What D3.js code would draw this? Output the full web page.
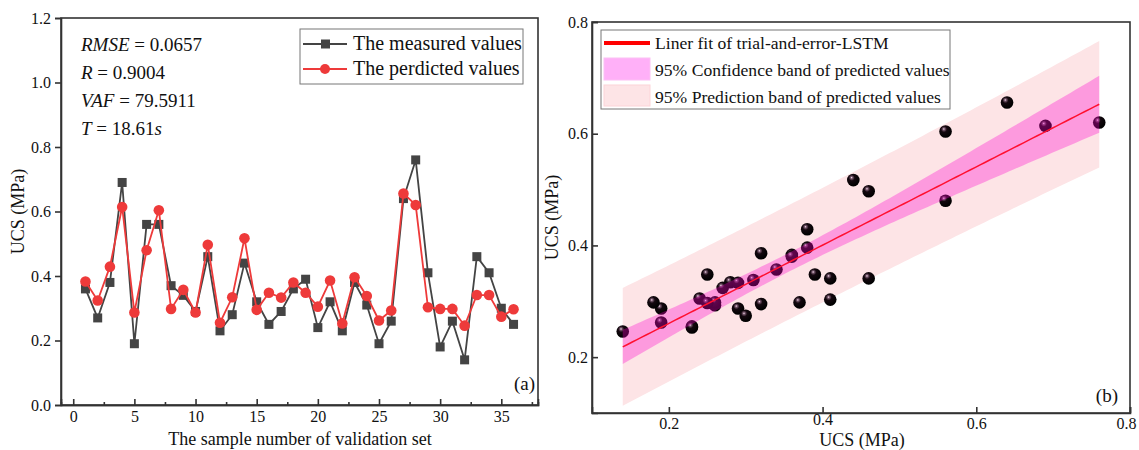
<!DOCTYPE html>
<html>
<head>
<meta charset="utf-8">
<script src="https://cdn.jsdelivr.net/npm/d3@7"></script>
<style>
  body { margin: 0; background: #fff; }
  svg { display: block; font-family: 'Liberation Serif', 'Times New Roman', serif; }
  svg text { font-family: 'Liberation Serif', 'Times New Roman', serif; }
</style>
</head>
<body>
<div id="chart"></div>
<script>
const width = 1139;
const height = 450;

// sample index 1..36 of the validation set
const samples = d3.range(1, 37);
const measured = [0.36, 0.27, 0.38, 0.69, 0.19, 0.56, 0.56, 0.37, 0.34, 0.29, 0.46, 0.23,
  0.28, 0.44, 0.32, 0.25, 0.29, 0.36, 0.39, 0.24, 0.32, 0.23, 0.38, 0.31,
  0.19, 0.26, 0.64, 0.76, 0.41, 0.18, 0.26, 0.14, 0.46, 0.41, 0.30, 0.25];
const predicted = [0.383, 0.324, 0.429, 0.614, 0.287, 0.48, 0.604, 0.298, 0.357, 0.287, 0.497, 0.255,
  0.334, 0.517, 0.295, 0.348, 0.333, 0.38, 0.348, 0.305, 0.386, 0.253, 0.396, 0.338,
  0.262, 0.293, 0.656, 0.62, 0.303, 0.298, 0.298, 0.246, 0.341, 0.341, 0.274, 0.297];
const metrics = [
  {name: 'RMSE', value: '0.0657', unit: ''},
  {name: 'R', value: '0.9004', unit: ''},
  {name: 'VAF', value: '79.5911', unit: ''},
  {name: 'T', value: '18.61', unit: 's'},
];
const leftXTicks = [0, 5, 10, 15, 20, 25, 30, 35];
const leftYTicks = [0, 0.2, 0.4, 0.6, 0.8, 1.0, 1.2];
const rightTicks = [0.2, 0.4, 0.6, 0.8];

const axisColor = '#333';
const measuredColor = '#444';
const predictedColor = '#ee3a3a';

const svg = d3.select('#chart').append('svg')
  .attr('width', width)
  .attr('height', height);

const defs = svg.append('defs');
const ball = defs.append('radialGradient')
  .attr('id', 'ball')
  .attr('cx', '40%').attr('cy', '35%').attr('r', '62%')
  .attr('fx', '36%').attr('fy', '30%');
ball.append('stop').attr('offset', '0%').attr('stop-color', '#f6e6f0');
ball.append('stop').attr('offset', '14%').attr('stop-color', '#7a5a70');
ball.append('stop').attr('offset', '38%').attr('stop-color', '#14080f');
ball.append('stop').attr('offset', '100%').attr('stop-color', '#000');

function styleAxis(g) {
  g.attr('font-family', null);
  g.selectAll('path, line').attr('stroke', axisColor).attr('stroke-width', 1.6);
  g.selectAll('text').attr('fill', '#111')
    .style('font-size', '16px')
    .style('font-family', "'Liberation Serif', serif");
}

// ---------- (a) line chart ----------
const xL = d3.scaleLinear([-1, 38], [61, 538]);
const yL = d3.scaleLinear([0, 1.2], [405, 18]);

const left = svg.append('g');

left.append('g')
  .attr('transform', `translate(0,${yL(0)})`)
  .call(d3.axisBottom(xL).tickValues(d3.range(2.5, 38, 5)).tickSize(-3).tickFormat(''))
  .call(styleAxis);
left.append('g')
  .attr('transform', `translate(0,${yL(0)})`)
  .call(d3.axisBottom(xL).tickValues(leftXTicks).tickSizeOuter(0).tickSize(-6).tickPadding(6))
  .call(styleAxis);
left.append('g')
  .attr('transform', `translate(${xL.range()[0]},0)`)
  .call(d3.axisLeft(yL).tickValues(leftYTicks).tickSizeOuter(0).tickSize(6).tickPadding(4)
    .tickFormat(d3.format('.1f')))
  .call(styleAxis);
left.append('rect')
  .attr('x', xL.range()[0]).attr('y', yL.range()[1])
  .attr('width', xL.range()[1] - xL.range()[0])
  .attr('height', yL.range()[0] - yL.range()[1])
  .attr('fill', 'none').attr('stroke', axisColor).attr('stroke-width', 1.6);

const lineL = (vals)=>d3.line().x((d, i)=>xL(samples[i])).y((d)=>yL(d))(vals);

left.append('path').attr('d', lineL(measured))
  .attr('fill', 'none').attr('stroke', measuredColor).attr('stroke-width', 1.8);
left.append('g').selectAll('rect')
  .data(measured)
  .join('rect')
  .attr('x', (d, i)=>xL(samples[i]) - 4.5)
  .attr('y', (d)=>yL(d) - 4.5)
  .attr('width', 9).attr('height', 9)
  .attr('fill', measuredColor);

left.append('path').attr('d', lineL(predicted))
  .attr('fill', 'none').attr('stroke', predictedColor).attr('stroke-width', 1.8);
left.append('g').selectAll('circle')
  .data(predicted)
  .join('circle')
  .attr('cx', (d, i)=>xL(samples[i]))
  .attr('cy', (d)=>yL(d))
  .attr('r', 5.3)
  .attr('fill', predictedColor);

// metrics text
const mt = left.append('g').attr('font-size', 19).attr('fill', '#111');
metrics.forEach((m, i)=>{
  const t = mt.append('text').attr('x', 81).attr('y', 51 + i * 28);
  t.append('tspan').attr('font-style', 'italic').text(m.name);
  t.append('tspan').text(' = ' + m.value);
  if (m.unit) t.append('tspan').attr('font-style', 'italic').text(m.unit);
});

// legend (a)
const legA = left.append('g');
legA.append('rect').attr('x', 300).attr('y', 29).attr('width', 223).attr('height', 55)
  .attr('fill', '#fff').attr('stroke', '#777').attr('stroke-width', 1);
[{label: 'The measured values', color: measuredColor, sq: true},
  {label: 'The perdicted values', color: predictedColor, sq: false}].forEach((s, i)=>{
  const y = 44 + i * 25;
  legA.append('line').attr('x1', 303).attr('x2', 347).attr('y1', y).attr('y2', y)
    .attr('stroke', s.color).attr('stroke-width', 1.8);
  if (s.sq) {
    legA.append('rect').attr('x', 321).attr('y', y - 4.5).attr('width', 9).attr('height', 9).attr('fill', s.color);
  } else {
    legA.append('circle').attr('cx', 325).attr('cy', y).attr('r', 5).attr('fill', s.color);
  }
  legA.append('text').attr('x', 353).attr('y', y + 6).attr('font-size', 20).attr('fill', '#111').text(s.label);
});

left.append('text').attr('x', 535).attr('y', 390).attr('text-anchor', 'end')
  .attr('font-size', 19).attr('fill', '#111').text('(a)');
left.append('text').attr('x', 300).attr('y', 445).attr('text-anchor', 'middle')
  .attr('font-size', 18).attr('fill', '#111').text('The sample number of validation set');
left.append('text').attr('transform', `translate(24,${yL(0.6)}) rotate(-90)`)
  .attr('text-anchor', 'middle').attr('font-size', 18).attr('fill', '#111').text('UCS (MPa)');

// ---------- (b) scatter with linear fit ----------
const xR = d3.scaleLinear([0.1, 0.8], [592, 1130]);
const yR = d3.scaleLinear([0.1, 0.8], [413, 22]);
const right = svg.append('g');

// least squares fit of predicted on measured, with 95% bands
const n = measured.length;
const mx = d3.mean(measured);
const my = d3.mean(predicted);
const sxx = d3.sum(measured, (x)=>(x - mx) ** 2);
const sxy = d3.sum(measured, (x, i)=>(x - mx) * (predicted[i] - my));
const slope = sxy / sxx;
const icept = my - slope * mx;
const sse = d3.sum(measured, (x, i)=>(predicted[i] - icept - slope * x) ** 2);
const s = Math.sqrt(sse / (n - 2));
const tval = 2.032;
const [xmin, xmax] = d3.extent(measured);
const grid = d3.range(0, 101).map((k)=>xmin + (xmax - xmin) * k / 100);
const band = grid.map((x)=>{
  const yh = icept + slope * x;
  const h = (x - mx) ** 2 / sxx + 1 / n;
  return {x, yh, c: tval * s * Math.sqrt(h), p: tval * s * Math.sqrt(1 + h)};
});

const area = (key)=>d3.area().x((d)=>xR(d.x)).y0((d)=>yR(d.yh - d[key])).y1((d)=>yR(d.yh + d[key]));

right.append('path').attr('d', area('p')(band)).attr('fill', '#fde4e6');

right.append('g').selectAll('circle')
  .data(measured)
  .join('circle')
  .attr('cx', (d)=>xR(d))
  .attr('cy', (d, i)=>yR(predicted[i]))
  .attr('r', 6.3)
  .attr('fill', 'url(#ball)');

right.append('path').attr('d', area('c')(band)).attr('fill', '#ff00cc').attr('fill-opacity', 0.32);
right.append('path')
  .attr('d', d3.line().x((d)=>xR(d.x)).y((d)=>yR(d.yh))(band))
  .attr('fill', 'none').attr('stroke', '#ff1030').attr('stroke-width', 1.5);

const xAxisR = right.append('g')
  .attr('transform', `translate(0,${yR.range()[0]})`)
  .call(d3.axisBottom(xR).tickValues(rightTicks).tickSizeOuter(0).tickSize(-6).tickPadding(5)
    .tickFormat(d3.format('.1f')))
  .call(styleAxis);
// the reference lifts "0.4" above the axis title and pulls "0.8" inside the frame
xAxisR.selectAll('.tick text')
  .attr('dy', (d)=>d === 0.4 ? '0.45em' : '0.71em')
  .attr('dx', (d)=>d === 0.8 ? -4 : 0);
right.append('g')
  .attr('transform', `translate(${xR.range()[0]},0)`)
  .call(d3.axisLeft(yR).tickValues(rightTicks).tickSizeOuter(0).tickSize(-6).tickPadding(4)
    .tickFormat(d3.format('.1f')))
  .call(styleAxis);
right.append('rect')
  .attr('x', xR.range()[0]).attr('y', yR.range()[1])
  .attr('width', xR.range()[1] - xR.range()[0])
  .attr('height', yR.range()[0] - yR.range()[1])
  .attr('fill', 'none').attr('stroke', axisColor).attr('stroke-width', 1.6);

// legend (b)
const legB = right.append('g');
legB.append('rect').attr('x', 601).attr('y', 30).attr('width', 349).attr('height', 79)
  .attr('fill', '#fff').attr('stroke', '#777').attr('stroke-width', 1);
legB.append('line').attr('x1', 604).attr('x2', 650).attr('y1', 43).attr('y2', 43)
  .attr('stroke', '#ff0000').attr('stroke-width', 4);
legB.append('rect').attr('x', 604).attr('y', 58).attr('width', 46).attr('height', 22)
  .attr('fill', '#ffb0f8').attr('stroke', '#fcc0f4');
legB.append('rect').attr('x', 604).attr('y', 85).attr('width', 46).attr('height', 21)
  .attr('fill', '#fde4e6').attr('stroke', '#fcd4d8');
['Liner fit of trial-and-error-LSTM', '95% Confidence band of predicted values',
  '95% Prediction band of predicted values'].forEach((t, i)=>{
  legB.append('text').attr('x', 655).attr('y', 49 + i * 27).attr('font-size', 17.6)
    .attr('fill', '#111').text(t);
});

right.append('text').attr('x', 1118).attr('y', 402).attr('text-anchor', 'end')
  .attr('font-size', 19).attr('fill', '#111').text('(b)');
right.append('text').attr('x', 862).attr('y', 446).attr('text-anchor', 'middle')
  .attr('font-size', 18).attr('fill', '#111').text('UCS (MPa)');
right.append('text').attr('transform', `translate(558,${yR(0.45)}) rotate(-90)`)
  .attr('text-anchor', 'middle').attr('font-size', 18).attr('fill', '#111').text('UCS (MPa)');
</script>
</body>
</html>
